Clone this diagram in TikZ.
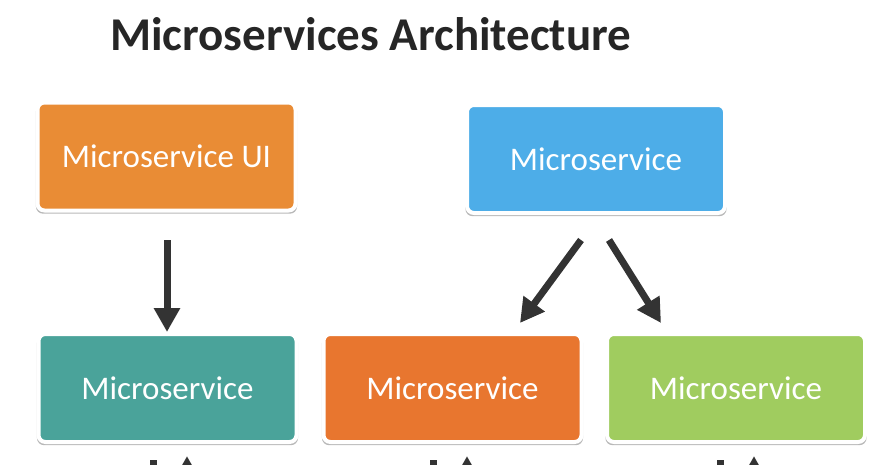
\documentclass[tikz,border=0pt]{standalone}
\usepackage{fontspec}
\setmainfont{Carlito}
\usetikzlibrary{arrows.meta,shadows,calc}
\definecolor{uiorange}{HTML}{E98C35}
\definecolor{svcblue}{HTML}{4DADE8}
\definecolor{svcteal}{HTML}{4AA39A}
\definecolor{svcorange}{HTML}{E8762F}
\definecolor{svcgreen}{HTML}{A0CC5F}
\definecolor{arrowgray}{HTML}{333333}
\definecolor{titlegray}{HTML}{262626}
\tikzset{
  svcbox/.style={draw=white, line width=4pt, rounded corners=7pt,
    minimum width=258pt, minimum height=108pt, inner sep=0pt,
    text=white, font=\fontsize{33}{36}\selectfont,
    drop shadow={shadow xshift=0pt, shadow yshift=-2.5pt, shadow scale=1.012, fill=black, opacity=0.28}},
  arr/.style={draw=arrowgray, line width=7pt,
    -{Triangle[width=25pt,length=24pt]}},
  bar/.style={draw=arrowgray, line width=7pt}
}
\begin{document}
\begin{tikzpicture}[x=1pt,y=-1pt]
\useasboundingbox (0,0) rectangle (876,464);
\clip (0,0) rectangle (876,464);
\node[anchor=base west, text=titlegray, font=\fontsize{47}{50}\bfseries\selectfont, inner sep=0pt] (title) at (110,50) {Microservices Architecture};
\node[svcbox, fill=uiorange] (ui) at (166.5,156.5) {Microservice UI};
\node[svcbox, fill=svcblue] (top) at (596,159) {Microservice};
\node[svcbox, fill=svcteal] (a) at (167.5,388) {Microservice};
\node[svcbox, fill=svcorange] (b) at (452.5,388) {Microservice};
\node[svcbox, fill=svcgreen] (c) at (736,388) {Microservice};
% arrows
\coordinate (s1) at (167,240);
\coordinate (e1) at (167,332);
\draw[arr] (s1) -- (e1);
\coordinate (s2) at (581,240);
\coordinate (e2) at (520,323);
\draw[arr] (s2) -- (e2);
\coordinate (s3) at (609,240);
\coordinate (e3) at (661,323);
\draw[arr] (s3) -- (e3);
% partial arrows at the bottom edge
\foreach \n/\xl/\xr in {p1/153/187, p2/433/467, p3/720/754}{
  \coordinate (\n a) at (\xl,460);
  \coordinate (\n b) at (\xl,500);
  \draw[bar] (\n a) -- (\n b);
  \coordinate (\n c) at (\xr,520);
  \coordinate (\n d) at (\xr,456);
  \draw[arr] (\n c) -- (\n d);
}
\end{tikzpicture}
\end{document}
